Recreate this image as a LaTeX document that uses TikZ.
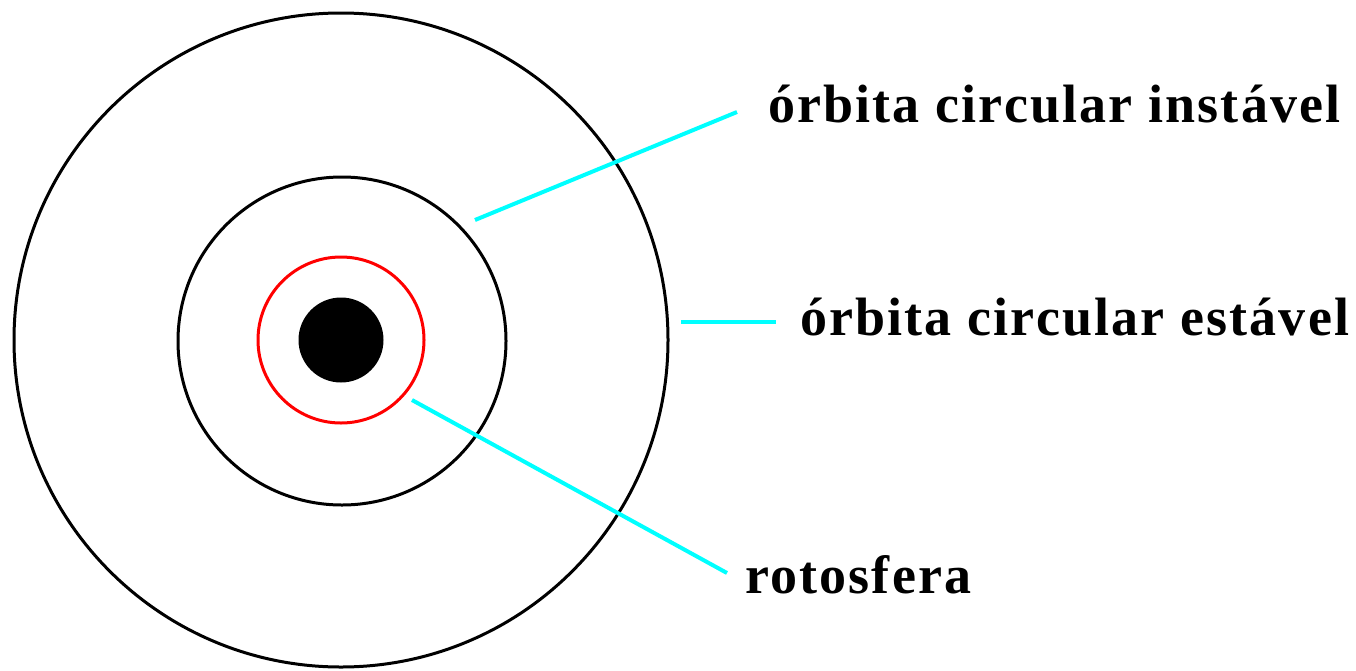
\documentclass[tikz,border=0pt]{standalone}
\usepackage{fontspec}
\setmainfont{Liberation Serif}[LetterSpace=4]
\definecolor{leadcyan}{RGB}{0,255,255}
\definecolor{rotored}{RGB}{255,0,0}
\begin{document}
\begin{tikzpicture}[x=1pt,y=-1pt,
  orbit/.style={draw=black,line width=3pt,circle,inner sep=0pt},
  leader/.style={draw=leadcyan,line width=4pt},
  lbl/.style={anchor=base west,inner sep=0pt,font=\fontsize{54}{60}\selectfont\bfseries}]
\useasboundingbox[fill=white] (0,0) rectangle (1356,670);
\node[orbit,minimum size=654pt] (outer) at (341,340) {};
\node[orbit,minimum size=328pt] (middle) at (342,341) {};
\node[orbit,draw=rotored,minimum size=166pt] (roto) at (341,340) {};
\node[circle,fill=black,inner sep=0pt,minimum size=85pt] (core) at (341,340) {};
\node[lbl] (l1) at (768,122) {órbita circular instável};
\node[lbl] (l2) at (800,335) {órbita circular estável};
\node[lbl] (l3) at (745,593) {rotosfera};
\coordinate (a1) at (475,220);
\coordinate (b1) at (737,112);
\coordinate (a2) at (681,322);
\coordinate (b2) at (776,322);
\coordinate (a3) at (412,400);
\coordinate (b3) at (727,573);
\draw[leader] (a1) -- (b1);
\draw[leader] (a2) -- (b2);
\draw[leader] (a3) -- (b3);
\end{tikzpicture}
\end{document}
